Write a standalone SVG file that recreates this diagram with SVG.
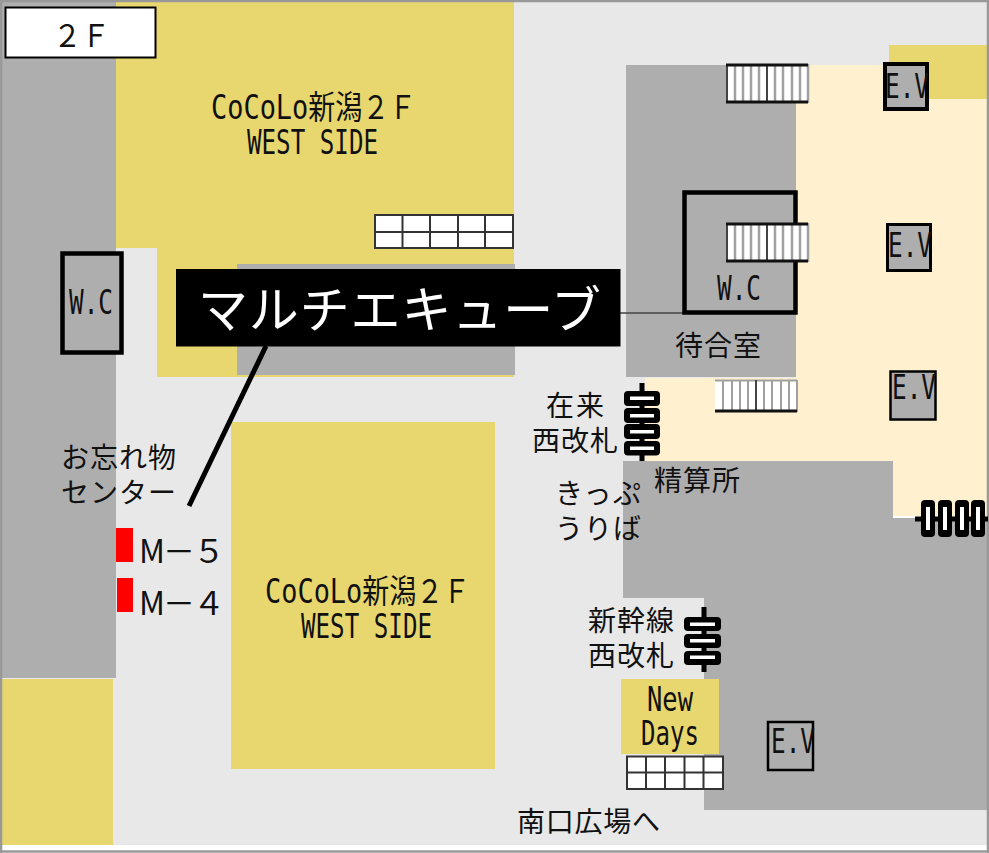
<svg xmlns="http://www.w3.org/2000/svg" width="989" height="853" viewBox="0 0 989 853">
<style>
text{font-family:"Noto Sans CJK JP","Noto Sans",sans-serif;fill:#111;font-weight:400}
.n{font-family:"DejaVu Sans Mono","Noto Sans CJK JP",monospace;font-size:33px}
.j{font-size:28px}
.y{fill:#E8D76E}.g{fill:#AEAEAE}.c{fill:#FFF1D0}
.box{fill:#AEAEAE;stroke:#000}
.st{fill:#fff}
.sv{stroke:#A0A0A0;stroke-width:2.5;fill:none}
.sd{stroke:#444;stroke-width:2;fill:none}
.sb{stroke:#111;stroke-width:3;fill:none}
.gr{fill:#fff;stroke:#333;stroke-width:2}
.grl{fill:none;stroke:#333;stroke-width:2}
.u{fill:#000}
.s{fill:#fff}
.stem{stroke:#000;stroke-width:5;fill:none}
</style>
<defs>
<g id="stairs">
<rect class="st" x="726" y="64" width="82" height="39"/>
<path class="sv" d="M735 64V103M743 64V103M751 64V103M759 64V103M775 64V103M783 64V103M792 64V103M800 64V103M808 64V103"/>
<path class="sd" d="M767 64V103M727 64V103"/>
<path class="sb" d="M726 65H808M726 102H808"/>
</g>
</defs>
<rect width="989" height="853" fill="#fff"/>
<rect x="1" y="1" width="987" height="844" fill="#E8E8E8"/>
<g id="floor">
<rect class="g" x="2" y="2" width="114" height="676"/>
<path class="y" d="M116 2H514V377H157V248H116Z"/>
<rect class="g" x="237" y="264" width="278" height="111"/>
<rect class="y" x="2" y="679" width="111" height="166"/>
<rect class="y" x="231" y="422" width="264" height="347"/>
<rect class="y" x="889" y="45" width="100" height="54"/>
<path class="c" d="M796 65H889V99H987V517H893V461H645V378H796Z"/>
<rect class="g" x="626" y="65" width="170" height="312"/>
<path fill="#fff" d="M893 516H925V519H893Z"/>
<path class="g" d="M623 461H893V518H987V810H704V598H623Z"/>
<rect class="y" x="621" y="679" width="98" height="75"/>
<rect x="116" y="528" width="17" height="34" fill="#f00"/>
<rect x="117" y="578" width="16" height="34" fill="#f00"/>
</g>
<path d="M1 853V1H988V853M0 851.500H989" fill="none" stroke="#999" stroke-width="2.500"/>
<g id="connectors">
<path d="M620 313H684" fill="none" stroke="#444" stroke-width="1.500"/>
<path d="M266 346L189 506" fill="none" stroke="#000" stroke-width="5"/>
</g>
<g id="floor-label"><rect x="5.500" y="7.500" width="150" height="50" fill="#fff" stroke="#000" stroke-width="2"/><text class="j" x="53" y="47" textLength="57" lengthAdjust="spacingAndGlyphs" style="font-size:31px">２Ｆ</text></g>
<g id="cocolo-north"><text class="n" x="211" y="119" textLength="205" lengthAdjust="spacingAndGlyphs">CoCoLo新潟２Ｆ</text><text class="n" x="247" y="154" textLength="131" lengthAdjust="spacingAndGlyphs">WEST SIDE</text></g>
<g id="cocolo-south"><text class="n" x="265" y="603" textLength="205" lengthAdjust="spacingAndGlyphs">CoCoLo新潟２Ｆ</text><text class="n" x="301" y="638" textLength="131" lengthAdjust="spacingAndGlyphs">WEST SIDE</text></g>
<g id="wc-left"><rect class="box" x="62.500" y="253.500" width="59" height="99" stroke-width="4.500"/><text class="n" x="69" y="314" textLength="44" lengthAdjust="spacingAndGlyphs">W.C</text></g>
<g id="wc-right"><rect class="box" x="684.500" y="192.500" width="111" height="120" stroke-width="4.500"/><text class="n" x="717" y="300" textLength="44" lengthAdjust="spacingAndGlyphs">W.C</text></g>
<g id="stairs-1"><use href="#stairs"/></g>
<g id="stairs-2"><use href="#stairs" y="159"/></g>
<g id="stairs-3"><rect class="st" x="715" y="380" width="82" height="32"/><path class="sv" d="M723 380V412M732 380V412M740 380V412M748 380V412M764 380V412M772 380V412M781 380V412M789 380V412M797 380V412M715 380.500H797" style="stroke-width:2"/><path class="sd" d="M756 380V412"/><path class="sb" d="M715 411H797"/></g>
<g id="escalator-1"><rect class="gr" x="375" y="215" width="138" height="33"/><path class="grl" d="M402.500 215V248M430 215V248M458 215V248M485 215V248M375 232H513"/></g>
<g id="escalator-2"><rect class="gr" x="627" y="756.500" width="96" height="32.500"/><path class="grl" d="M646 756V789M665 756V789M684.500 756V789M703.500 756V789M627 772.500H723"/></g>
<g id="ev-1"><rect class="box" x="885" y="64" width="42" height="45" stroke-width="4"/><text class="n" x="885" y="98" textLength="44" lengthAdjust="spacingAndGlyphs">E.V</text></g>
<g id="ev-2"><rect class="box" x="887.500" y="224.500" width="43" height="46" stroke-width="3"/><text class="n" x="888" y="257" textLength="44" lengthAdjust="spacingAndGlyphs">E.V</text></g>
<g id="ev-3"><rect class="box" x="890.500" y="371.500" width="45" height="48" stroke-width="2.500"/><text class="n" x="892" y="399" textLength="44" lengthAdjust="spacingAndGlyphs">E.V</text></g>
<g id="ev-4"><rect class="box" x="768" y="722" width="45" height="48" stroke-width="2.500"/><text class="n" x="771" y="753" textLength="44" lengthAdjust="spacingAndGlyphs">E.V</text></g>
<g id="newdays"><text class="n" x="647" y="711" textLength="46" lengthAdjust="spacingAndGlyphs">New</text><text class="n" x="641" y="745" textLength="58" lengthAdjust="spacingAndGlyphs">Days</text></g>
<g id="gate-1"><path class="stem" d="M642 383V461"/><rect class="u" x="624" y="391" width="36" height="15" rx="4"/><rect class="s" x="630" y="396.500" width="24" height="3.500"/><rect class="u" x="624" y="408" width="36" height="15" rx="4"/><rect class="s" x="630" y="414" width="24" height="3.500"/><rect class="u" x="624" y="424" width="36" height="15" rx="4"/><rect class="s" x="630" y="430" width="24" height="3.500"/><rect class="u" x="624" y="441" width="36" height="14.500" rx="4"/><rect class="s" x="630" y="446.500" width="24" height="3.500"/></g>
<g id="gate-2"><path class="stem" d="M915 519H988"/><rect class="u" x="921" y="500" width="14" height="37" rx="4"/><rect class="s" x="926" y="507" width="4" height="23"/><rect class="u" x="938" y="500" width="14" height="37" rx="4"/><rect class="s" x="943" y="507" width="4" height="23"/><rect class="u" x="955" y="500" width="14" height="37" rx="4"/><rect class="s" x="960" y="507" width="4" height="23"/><rect class="u" x="971" y="500" width="14" height="37" rx="4"/><rect class="s" x="976" y="507" width="4" height="23"/></g>
<g id="gate-3"><path class="stem" d="M704 607V672"/><rect class="u" x="684" y="617" width="37" height="14" rx="4"/><rect class="s" x="690" y="622.500" width="25" height="3.500"/><rect class="u" x="684" y="634" width="37" height="14" rx="4"/><rect class="s" x="690" y="639" width="25" height="3.500"/><rect class="u" x="684" y="651" width="37" height="14" rx="4"/><rect class="s" x="690" y="655.500" width="25" height="3.500"/></g>
<g id="labels">
<text class="j" x="675" y="356" textLength="86">待合室</text>
<text class="j" x="546" y="416" textLength="58">在来</text>
<text class="j" x="532" y="451" textLength="86">西改札</text>
<text class="j" x="555" y="504" textLength="86">きっぷ</text>
<text class="j" x="555" y="539" textLength="86">うりば</text>
<text class="j" x="654" y="491" textLength="86">精算所</text>
<text class="j" x="588" y="631" textLength="86">新幹線</text>
<text class="j" x="588" y="666" textLength="86">西改札</text>
<text class="j" x="517" y="832" textLength="143">南口広場へ</text>
<text class="j" x="61" y="468" textLength="115">お忘れ物</text>
<text class="j" x="61" y="503" textLength="115">センター</text>
<text class="j" x="139" y="563" textLength="86" style="font-size:32px">M－５</text>
<text class="j" x="139" y="615" textLength="86" style="font-size:32px">M－４</text>
</g>
<g id="multicube"><rect x="176" y="269" width="444.500" height="77.500" fill="#000"/><text x="198" y="328" textLength="403" style="font-size:50px;fill:#fff">マルチエキューブ</text></g>
</svg>
